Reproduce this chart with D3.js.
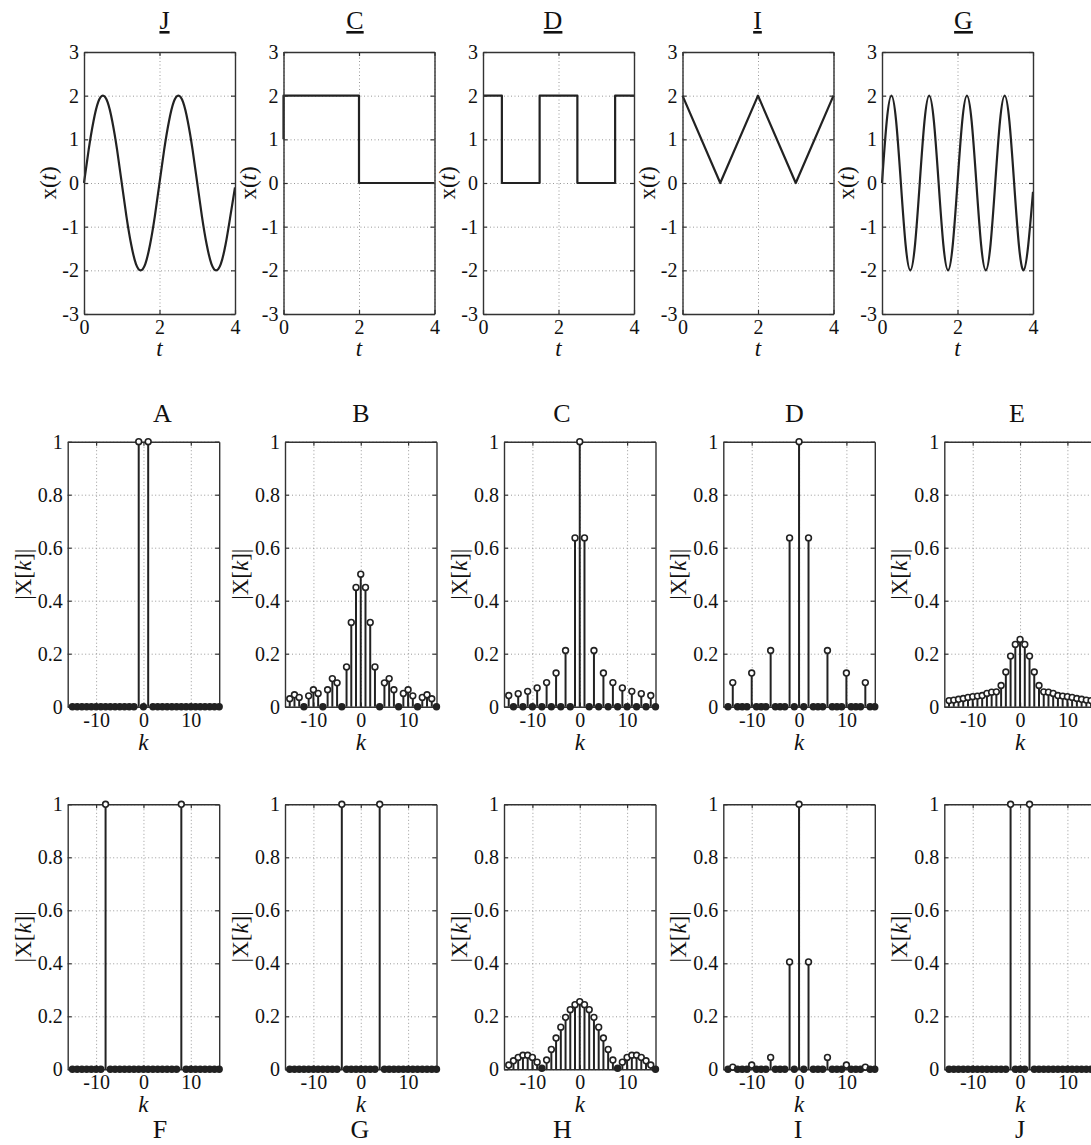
<!DOCTYPE html>
<html><head><meta charset="utf-8">
<script src="https://cdn.jsdelivr.net/npm/d3@7"></script>
<style>
body{margin:0;background:#fff}
svg{display:block;background:#fff}
text,tspan{font-family:"Liberation Serif","Times New Roman",serif}
</style></head><body>
<svg id="c" width="1091" height="1145" font-family="Liberation Serif, Times New Roman, serif"></svg>
<script>
// ---------- data ----------
const timeTicks = [0, 2, 4];
const ampTicks = [-3, -2, -1, 0, 1, 2, 3];
const kTicks = [-10, 0, 10];
const magTicks = [0, 0.2, 0.4, 0.6, 0.8, 1];

const topTitles = ["J", "C", "D", "I", "G"];
const midTitles = ["A", "B", "C", "D", "E"];
const botTitles = ["F", "G", "H", "I", "J"];

const tGrid = [0,0.125,0.25,0.375,0.5,0.625,0.75,0.875,1,1.125,1.25,1.375,1.5,1.625,1.75,1.875,2,
  2.125,2.25,2.375,2.5,2.625,2.75,2.875,3,3.125,3.25,3.375,3.5,3.625,3.75,3.875,4];
const xJ = [0,0.77,1.41,1.85,2,1.85,1.41,0.77,0,-0.77,-1.41,-1.85,-2,-1.85,-1.41,-0.77,0,
  0.77,1.41,1.85,2,1.85,1.41,0.77,0,-0.77,-1.41,-1.85,-2,-1.85,-1.41,-0.77,-0.1];
const tC = [0, 0, 2, 2, 4];
const xC = [1, 2, 2, 0, 0];
const tD = [0, 0.5, 0.5, 1.5, 1.5, 2.5, 2.5, 3.5, 3.5, 4];
const xD = [2, 2, 0, 0, 2, 2, 0, 0, 2, 2];
const tI = [0, 1, 2, 3, 4];
const xI = [2, 0, 2, 0, 2];
const xG = [0,1.41,2,1.41,0,-1.41,-2,-1.41,0,1.41,2,1.41,0,-1.41,-2,-1.41,0,
  1.41,2,1.41,0,-1.41,-2,-1.41,0,1.41,2,1.41,0,-1.41,-2,-1.41,-0.2];

const kValues = [-15,-14,-13,-12,-11,-10,-9,-8,-7,-6,-5,-4,-3,-2,-1,0,1,2,3,4,5,6,7,8,9,10,11,12,13,14,15,16];
const magA = [0,0,0,0,0,0,0,0,0,0,0,0,0,0,1,0,1,0,0,0,0,0,0,0,0,0,0,0,0,0,0,0];
const magB = [0.03,0.045,0.035,0,0.041,0.064,0.05,0,0.064,0.106,0.09,0,0.15,0.318,0.45,0.5,
  0.45,0.318,0.15,0,0.09,0.106,0.064,0,0.05,0.064,0.041,0,0.035,0.045,0.03,0];
const magC = [0.042,0,0.049,0,0.058,0,0.071,0,0.091,0,0.127,0,0.212,0,0.637,1,
  0.637,0,0.212,0,0.127,0,0.091,0,0.071,0,0.058,0,0.049,0,0.042,0];
const magD = [0,0.091,0,0,0,0.127,0,0,0,0.212,0,0,0,0.637,0,1,
  0,0.637,0,0,0,0.212,0,0,0,0.127,0,0,0,0.091,0,0];
const magE = [0.023,0.025,0.028,0.031,0.035,0.038,0.04,0.042,0.05,0.055,0.056,0.08,0.131,0.191,0.235,0.254,
  0.235,0.191,0.131,0.08,0.056,0.055,0.05,0.042,0.04,0.038,0.035,0.031,0.028,0.025,0.023,0.022];
const magF = [0,0,0,0,0,0,0,1,0,0,0,0,0,0,0,0,0,0,0,0,0,0,0,1,0,0,0,0,0,0,0,0];
const magG = [0,0,0,0,0,0,0,0,0,0,0,1,0,0,0,0,0,0,0,1,0,0,0,0,0,0,0,0,0,0,0,0];
const magH = [0.016,0.032,0.045,0.053,0.053,0.045,0.027,0.004,0.035,0.075,0.118,0.159,0.196,0.225,0.244,0.255,
  0.244,0.225,0.196,0.159,0.118,0.075,0.035,0.004,0.027,0.045,0.053,0.053,0.045,0.032,0.016,0];
const magI = [0,0.008,0,0,0,0.016,0,0,0,0.045,0,0,0,0.405,0,1,
  0,0.405,0,0,0,0.045,0,0,0,0.016,0,0,0,0.008,0,0];
const magJ = [0,0,0,0,0,0,0,0,0,0,0,0,0,1,0,0,0,1,0,0,0,0,0,0,0,0,0,0,0,0,0,0];

const timeSignals = [[tGrid, xJ], [tC, xC], [tD, xD], [tI, xI], [tGrid, xG]];
const midSpectra = [magA, magB, magC, magD, magE];
const botSpectra = [magF, magG, magH, magI, magJ];

// ---------- layout ----------
const FONT = "Liberation Serif, Times New Roman, serif";
const ink = "#222";
const svg = d3.select("#c");
const topLefts = [84, 283.5, 483, 682.5, 882], topW = 151, topTop = 52, topBot = 314;
const specLefts = [67.7, 285, 504, 723.3, 944.3], specW = 151.5;
const midTop = 441.7, midBot = 706.7, botTop = 804.3, botBot = 1069.3;
const topTitleX = [164.5, 355, 553, 757.5, 963.5];
const midTitleX = [162.5, 361, 562, 794.5, 1017];
const botTitleX = [160, 360, 562.5, 798, 1020];
const tickFont = 20, labFont = 23, titleFont = 26;
const fmtTick = d => String(d);

function frame(g, x, y, xt, yt) {
  const [x0, x1] = x.range(), [yb, yt0] = y.range();
  const H = yb - yt0, W = x1 - x0;
  const gs = s => { s.attr("font-family", null); s.select(".domain").remove();
    s.selectAll("line").attr("stroke", "#999").attr("stroke-width", 1).attr("stroke-dasharray", "1,2.5"); };
  g.append("g").attr("transform", `translate(0,${yb})`)
    .call(d3.axisBottom(x).tickValues(xt).tickSize(-H).tickFormat("")).call(gs);
  g.append("g").attr("transform", `translate(${x0},0)`)
    .call(d3.axisLeft(y).tickValues(yt).tickSize(-W).tickFormat("")).call(gs);
}

function box(g, x, y, xt, yt) {
  const [x0, x1] = x.range(), [yb, yt0] = y.range();
  const style = s => { s.attr("font-family", FONT);
    s.select(".domain").attr("stroke", "#333").attr("stroke-width", 1.4);
    s.selectAll(".tick line").attr("stroke", "#333").attr("stroke-width", 1.2);
    s.selectAll("text").attr("font-size", tickFont).attr("fill", "#111").attr("font-family", FONT); };
  g.append("g").attr("transform", `translate(0,${yb})`)
    .call(d3.axisBottom(x).tickValues(xt).tickSizeInner(-4).tickSizeOuter(0).tickPadding(6).tickFormat(fmtTick))
    .call(style);
  g.append("g").attr("transform", `translate(0,${yt0})`)
    .call(d3.axisTop(x).tickValues(xt).tickSizeInner(-4).tickSizeOuter(0).tickFormat(""))
    .call(style);
  g.append("g").attr("transform", `translate(${x0},0)`)
    .call(d3.axisLeft(y).tickValues(yt).tickSizeInner(-4).tickSizeOuter(0).tickPadding(5).tickFormat(fmtTick))
    .call(style);
  g.append("g").attr("transform", `translate(${x1},0)`)
    .call(d3.axisRight(y).tickValues(yt).tickSizeInner(-4).tickSizeOuter(0).tickFormat(""))
    .call(style);
}

function ylabel(g, cx, cy, base, ital, tail) {
  const t = g.append("text").attr("transform", `translate(${cx},${cy}) rotate(-90)`)
    .attr("text-anchor", "middle").attr("dominant-baseline", "central")
    .attr("font-size", labFont).attr("font-family", FONT).attr("fill", "#111");
  t.append("tspan").text(base);
  t.append("tspan").attr("font-style", "italic").text(ital);
  t.append("tspan").text(tail);
}
function xlabel(g, cx, y, s) {
  g.append("text").attr("x", cx).attr("y", y).attr("text-anchor", "middle").attr("fill", "#111")
    .attr("font-size", labFont).attr("font-family", FONT).attr("font-style", "italic").text(s);
}
function title(g, cx, y, s, underline) {
  g.append("text").attr("x", cx).attr("y", y).attr("text-anchor", "middle").attr("fill", "#111")
    .attr("font-size", titleFont).attr("font-family", FONT)
    .style("text-decoration", underline ? "underline" : "none").text(s);
}

// ---------- top row: time signals ----------
topLefts.forEach((L, i) => {
  const g = svg.append("g");
  const x = d3.scaleLinear().domain([0, 4]).range([L, L + topW]);
  const y = d3.scaleLinear().domain([-3, 3]).range([topBot, topTop]);
  frame(g, x, y, timeTicks, ampTicks);
  const [ts, xs] = timeSignals[i];
  const line = d3.line().x(d => x(d[0])).y(d => y(d[1]))
    .curve(i === 0 || i === 4 ? d3.curveNatural : d3.curveLinear);
  g.append("path").datum(ts.map((t, j) => [t, xs[j]])).attr("d", line)
    .attr("fill", "none").attr("stroke", ink).attr("stroke-width", 2.2).attr("stroke-linejoin", "round");
  box(g, x, y, timeTicks, ampTicks);
  ylabel(g, L - 36, (topTop + topBot) / 2, "x(", "t", ")");
  xlabel(g, L + topW / 2, topBot + 42, "t");
  title(g, topTitleX[i], 29, topTitles[i], true);
});

// ---------- spectra ----------
function spectrumRow(mags, titles, titleXs, yTop, yBot, titleY) {
  specLefts.forEach((L, i) => {
    const g = svg.append("g");
    const x = d3.scaleLinear().domain([-16, 16]).range([L, L + specW]);
    const y = d3.scaleLinear().domain([0, 1]).range([yBot, yTop]);
    frame(g, x, y, kTicks, magTicks);
    box(g, x, y, kTicks, magTicks);
    const data = kValues.map((k, j) => ({k, v: mags[i][j]}));
    g.append("g").selectAll("line").data(data.filter(d => d.v > 0)).join("line")
      .attr("x1", d => x(d.k)).attr("x2", d => x(d.k))
      .attr("y1", y(0)).attr("y2", d => y(d.v))
      .attr("stroke", ink).attr("stroke-width", 2);
    g.append("g").selectAll("circle").data(data).join("circle")
      .attr("cx", d => x(d.k)).attr("cy", d => y(d.v)).attr("r", 2.9)
      .attr("fill", d => d.v > 0.006 ? "#fff" : ink)
      .attr("stroke", ink).attr("stroke-width", 1.6);
    ylabel(g, L - 45, (yTop + yBot) / 2, "|X[", "k", "]|");
    xlabel(g, L + specW / 2, yBot + 43, "k");
    title(g, titleXs[i], titleY, titles[i], false);
  });
}
spectrumRow(midSpectra, midTitles, midTitleX, midTop, midBot, 421.5);
spectrumRow(botSpectra, botTitles, botTitleX, botTop, botBot, 1138);
</script></body></html>
